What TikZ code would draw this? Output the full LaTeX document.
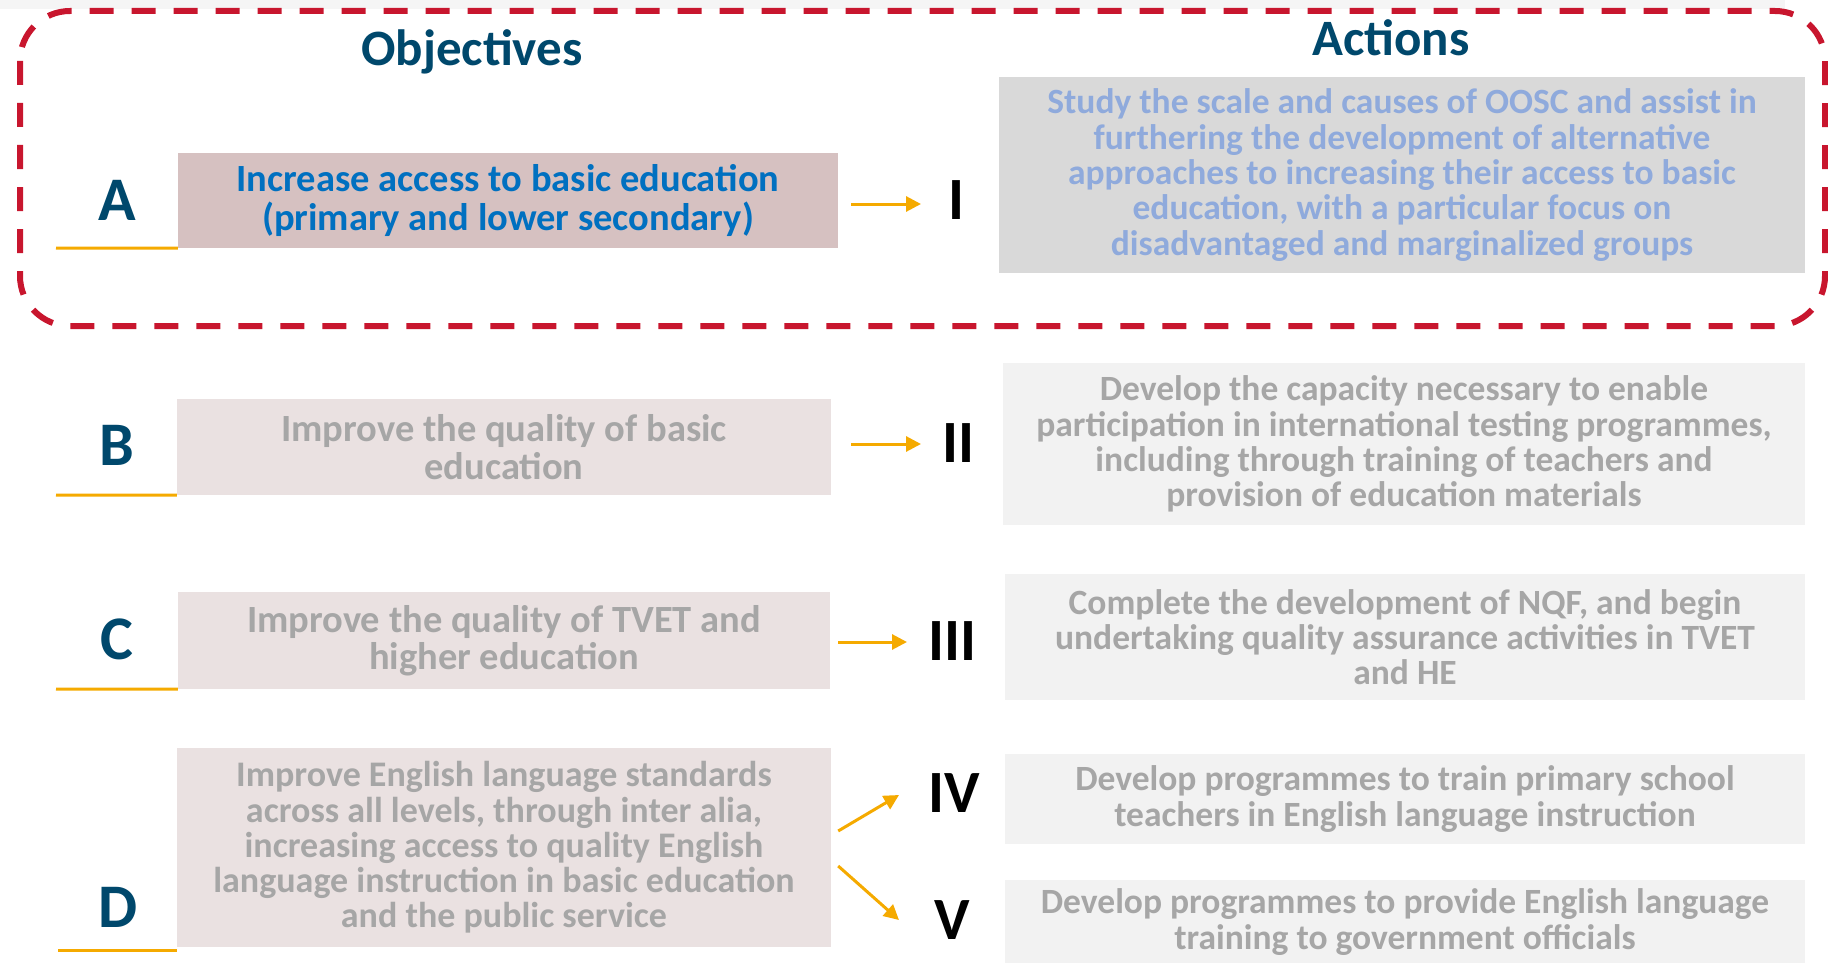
\documentclass[tikz,border=0pt]{standalone}
\usepackage{fontspec}
\setmainfont{Carlito}
\usetikzlibrary{arrows.meta}
\definecolor{dashred}{RGB}{200,22,46}
\definecolor{headteal}{RGB}{0,72,108}
\definecolor{blueA}{RGB}{0,112,192}
\definecolor{pinkA}{RGB}{214,193,193}
\definecolor{pinkL}{RGB}{234,225,225}
\definecolor{grayT}{RGB}{166,166,166}
\definecolor{actIfill}{RGB}{217,217,217}
\definecolor{actIText}{RGB}{143,170,220}
\definecolor{actFill}{RGB}{242,242,242}
\definecolor{arrOrange}{RGB}{245,170,0}
\definecolor{topband}{RGB}{245,245,245}
\begin{document}
\begin{tikzpicture}[x=1pt,y=-1pt,
  dashbox/.style={draw=dashred,line width=6pt,dash pattern=on 24pt off 18pt,rounded corners=50pt},
  heading/.style={text=headteal,font=\bfseries\fontsize{51}{51}\selectfont,inner sep=0pt},
  letter/.style={text=headteal,font=\bfseries\fontsize{62}{62}\selectfont,inner sep=0pt},
  numeral/.style={text=black,font=\bfseries\fontsize{60}{60}\selectfont,inner sep=0pt},
  objbox/.style={rectangle,inner sep=0pt,align=center,text=grayT,fill=pinkL,
    font=\bfseries\fontsize{38.5}{37.5}\selectfont},
  actbox/.style={rectangle,inner sep=0pt,align=center,text=grayT,fill=actFill,
    font=\bfseries\fontsize{35.5}{35.3}\selectfont},
  uline/.style={draw=arrOrange,line width=3pt},
  arr/.style={draw=arrOrange,line width=3pt,-{Triangle[length=15pt,width=15pt]}}
]
\useasboundingbox (0,0) rectangle (1828,963);
\fill[topband] (0,0) rectangle (1785,9);
\draw[dashbox] (20,11) rectangle (1825,326);

% headings
\node[heading] (hobj) at (472,52) {Objectives};
\node[heading] (hact) at (1391,38) {Actions};

% objective boxes
\node[objbox,fill=pinkA,text=blueA,minimum width=660pt,minimum height=95pt,
  font=\bfseries\fontsize{38.5}{38.5}\selectfont] (boxA) at (508,200.5)
  {Increase access to basic education\\(primary and lower secondary)};
\node[objbox,minimum width=654pt,minimum height=96pt] (boxB) at (504,447)
  {Improve the quality of basic\\education};
\node[objbox,minimum width=652pt,minimum height=97pt] (boxC) at (504,640.5)
  {Improve the quality of TVET and\\higher education};
\node[objbox,minimum width=654pt,minimum height=199pt,
  font=\bfseries\fontsize{36}{35.3}\selectfont] (boxD) at (504,847.5)
  {Improve English language standards\\across all levels, through inter alia,\\increasing access to quality English\\language instruction in basic education\\and the public service};

% letters
\node[letter] (letA) at (117,200) {A};
\node[letter] (letB) at (117,445) {B};
\node[letter] (letC) at (117,639) {C};
\node[letter] (letD) at (118,907) {D};

% underlines
\draw[uline] (56,248) -- (boxA.south west);
\draw[uline] (56,495) -- (boxB.south west);
\draw[uline] (56,689) -- (boxC.south west);
\draw[uline] (58,950) -- (boxD.south west |- 0,950);

% numerals
\node[numeral] (nI) at (956,200) {I};
\node[numeral] (nII) at (958,443) {II};
\node[numeral] (nIII) at (952,641) {III};
\node[numeral] (nIV) at (954,793) {IV};
\node[numeral] (nV) at (952,920) {V};

% action boxes
\node[actbox,fill=actIfill,text=actIText,minimum width=806pt,minimum height=196pt] (actI) at (1402,175)
  {Study the scale and causes of OOSC and assist in\\furthering the development of alternative\\approaches to increasing their access to basic\\education, with a particular focus on\\disadvantaged and marginalized groups};
\node[actbox,minimum width=802pt,minimum height=162pt] (actII) at (1404,444)
  {Develop the capacity necessary to enable\\participation in international testing programmes,\\including through training of teachers and\\provision of education materials};
\node[actbox,minimum width=800pt,minimum height=126pt] (actIII) at (1405,637)
  {Complete the development of NQF, and begin\\undertaking quality assurance activities in TVET\\and HE};
\node[actbox,minimum width=800pt,minimum height=90pt] (actIV) at (1405,799)
  {Develop programmes to train primary school\\teachers in English language instruction};
\node[actbox,minimum width=800pt,minimum height=85pt] (actV) at (1405,922)
  {Develop programmes to provide English language\\training to government officials};

% arrows
\coordinate (tI) at (921,204);
\coordinate (tII) at (921,444);
\coordinate (tIII) at (907,642);
\coordinate (tIV) at (899,795);
\coordinate (tV) at (899,920);
\draw[arr] ([xshift=13pt]boxA.east |- tI) -- (tI);
\draw[arr] ([xshift=20pt]boxB.east |- tII) -- (tII);
\draw[arr] ([xshift=8pt]boxC.east |- tIII) -- (tIII);
\draw[arr] ([xshift=7pt]boxD.east |- 0,831) -- (tIV);
\draw[arr] ([xshift=7pt]boxD.east |- 0,866) -- (tV);
\end{tikzpicture}
\end{document}
